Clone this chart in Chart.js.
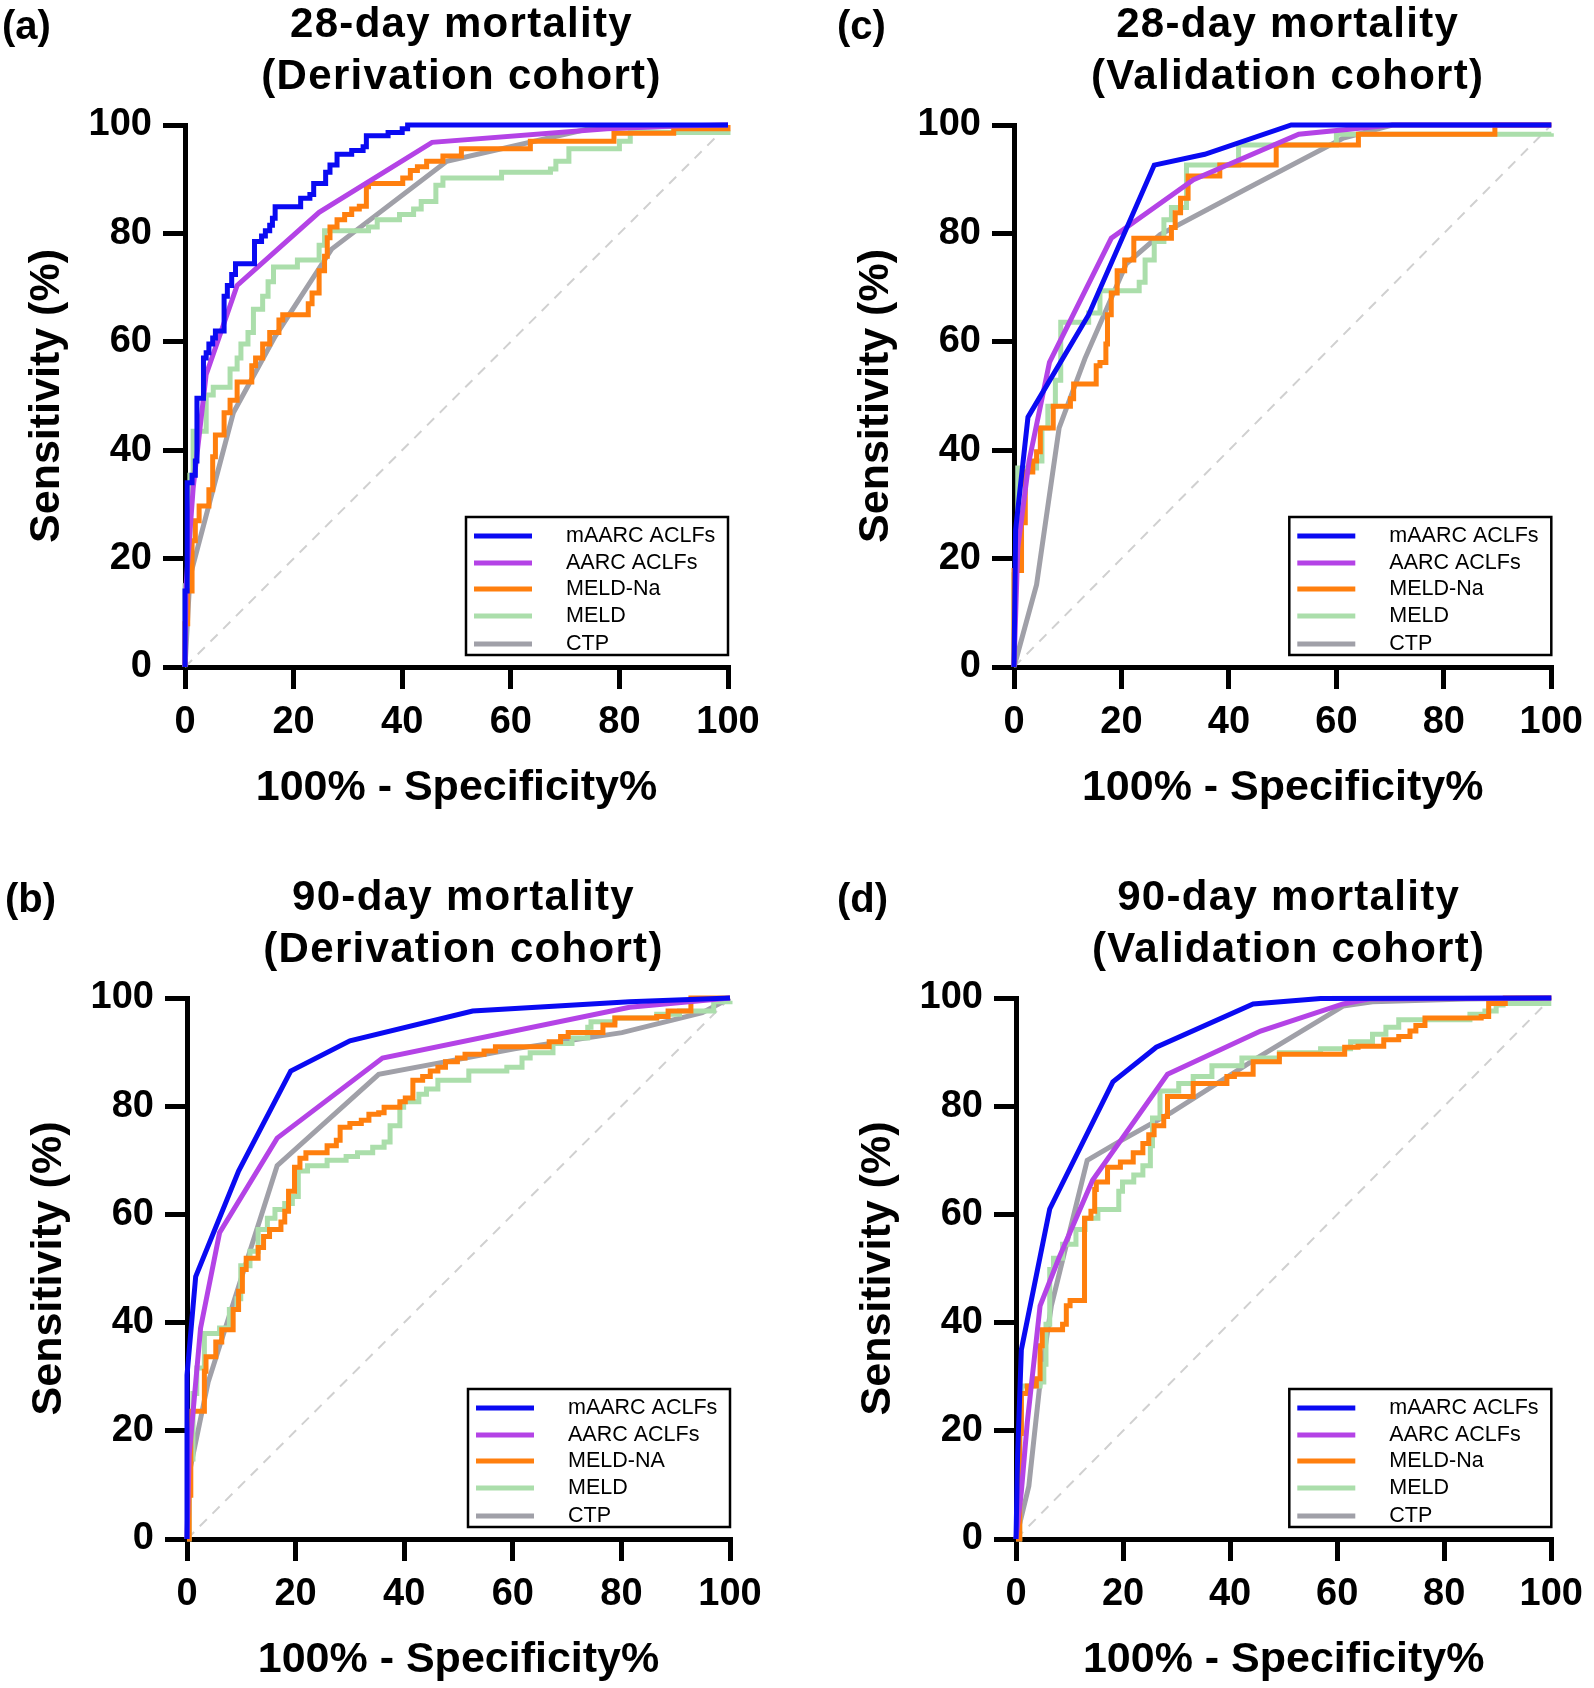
<!DOCTYPE html>
<html>
<head>
<meta charset="utf-8">
<script src="https://cdn.jsdelivr.net/npm/chart.js@4.4.1/dist/chart.umd.min.js"></script>
<style>
  body { margin: 0; background: #fff; }
  #page { position: relative; width: 1594px; height: 1688px; background: #fff; }
  .panel { position: absolute; width: 797px; height: 844px; }
</style>
</head>
<body>
<div id="page">
  <div class="panel" style="left:0;top:0"><canvas id="chartA" width="797" height="844"></canvas></div>
  <div class="panel" style="left:797px;top:0"><canvas id="chartC" width="797" height="844"></canvas></div>
  <div class="panel" style="left:0;top:844px"><canvas id="chartB" width="797" height="844"></canvas></div>
  <div class="panel" style="left:797px;top:844px"><canvas id="chartD" width="797" height="844"></canvas></div>
</div>
<script>
// axis ticks and labels
var tickValues = [0, 20, 40, 60, 80, 100];
var xTitle = '100% - Specificity%';
var yTitle = 'Sensitivity (%)';

// legend labels
var labels28 = ['mAARC ACLFs', 'AARC ACLFs', 'MELD-Na', 'MELD', 'CTP'];
var labels90d = ['mAARC ACLFs', 'AARC ACLFs', 'MELD-NA', 'MELD', 'CTP'];
var seriesColors = ['#0a0af2', '#b443e6', '#ff7f0e', '#abdeab', '#a0a0a8'];

// ---- (a) 28-day, derivation ----  [x, y] = [100-specificity, sensitivity]
var a_mAARC = [[0,0],[0,14],[0.4,34],[1.3,35.4],[1.9,38],[2.2,49.6],[3.4,57],[3.9,58],[4.4,59.6],[5.1,60.7],[5.6,62],[7.2,68.4],[7.8,70.4],[8.6,72.4],[9.3,74.4],[12.8,78.5],[14.1,79.5],[14.8,80.5],[15.6,81.5],[16.1,82.8],[16.6,84.9],[21.3,86.5],[23,87.2],[23.7,89.2],[25.9,91.3],[26.7,92.6],[28,94.6],[30.7,95.3],[32.8,96],[33.4,98],[37.4,98.6],[40,99.3],[41,100],[100,100]];
var a_AARC = [[0,0],[0.2,15],[1.5,33],[3.9,54],[9.6,70.4],[24.7,83.9],[45.5,96.8],[77.7,99.3],[90,99.8],[100,100]];
var a_MELDNa = [[0,0],[0,8],[0.5,14],[1.3,23.3],[1.9,27],[2.6,29.7],[4.4,32.7],[5.1,38.8],[5.6,42.8],[7.2,46.9],[8.3,49.2],[9.6,52.6],[12.3,55.6],[13,57],[14.3,59.6],[15.6,61.7],[17.3,64],[18,65],[22.7,67],[23.4,69],[24.7,73.1],[25.7,75.8],[26.2,79.2],[26.7,81.2],[28,82.5],[29.4,83.5],[30.7,84.5],[32.1,85],[33.4,88.6],[33.8,89.2],[40.1,90.2],[41.5,91.6],[42.8,92.3],[44.5,93.3],[47.5,94.3],[50.9,95.6],[63.6,97],[79,98.5],[90,99.3],[100,100]];
var a_MELD = [[0,0],[0,15],[0.9,35.4],[1.5,43.5],[3.9,50.2],[5.2,51.6],[8.3,55],[9.6,57],[10.3,59.6],[11.6,61.7],[12.6,66],[14.3,68.4],[15.3,71.1],[16.3,73.8],[20.7,75.1],[24.7,77.8],[25.7,80.5],[33.8,81.2],[35.4,82.5],[39.5,83.5],[42.1,84.5],[43.5,85.9],[46.2,88.9],[47.5,90.2],[58.3,91.3],[67.3,91.9],[68.3,93.3],[70.7,95.6],[80,97],[82,98.6],[100,99]];
var a_CTP = [[0,0],[0.9,16.6],[8.9,46.9],[16.6,61],[27,77.1],[48.2,93.3],[74.4,99.3],[100,100]];

// ---- (b) 90-day, derivation ----
var b_mAARC = [[0,0],[0,30.3],[1.6,48.5],[9.5,68],[19.1,86.5],[30,92.1],[52.6,97.6],[81.5,99.3],[100,100]];
var b_AARC = [[0,0],[0.4,15.5],[2.5,39],[6,56.6],[16.6,74.1],[36,88.9],[81.5,98.3],[100,100]];
var b_MELDNa = [[0,0],[0.4,8.1],[0.7,23.6],[3.2,31],[3.5,33.7],[5.3,36.4],[6.4,38.7],[8.5,42.4],[9.5,45.8],[10.2,49.8],[10.9,51.9],[13.1,53.9],[14.1,55.9],[15.2,57.2],[17.3,58.6],[18,60.6],[18.7,64.3],[19.8,68.7],[20.8,70.4],[21.9,71.4],[25.8,72.7],[27.5,73.7],[28.2,76.1],[30,76.8],[32.1,77.4],[33.5,78.5],[35.3,78.8],[36.3,79.8],[39.2,80.8],[40.2,81.5],[41.6,84.8],[43.4,85.5],[44.8,86.5],[46.2,87.2],[47.6,88.2],[49.8,88.9],[51.2,89.6],[54.7,90.2],[56.8,91],[66.7,91.9],[68.8,92.9],[70.2,93.6],[76.6,95],[78.8,96.3],[86.5,96.6],[88.6,97.6],[92.8,100],[100,100]];
var b_MELD = [[0,0],[0.4,14.8],[1.1,26.9],[1.8,31.6],[3.2,38],[6,39],[7.8,42.4],[9.2,44.4],[9.9,50.5],[11.6,53.2],[13.1,57.2],[14.8,59.3],[16.2,60.9],[18,62],[19.4,63.3],[20.5,68],[22.2,69],[25.8,70],[29.3,70.7],[31.4,71.4],[34.2,72.4],[36.3,73.4],[37.4,76.4],[39.2,79.8],[39.9,80.8],[42.7,82.2],[44.1,83.2],[46.2,84.8],[51.9,86.5],[58.9,87.2],[61.7,88.9],[63.2,89.9],[67.4,91.6],[70.9,92.6],[73.8,94.6],[74.4,95.6],[78.8,96.3],[86.5,97],[90.7,97.6],[97,99.3],[100,99.5]];
var b_CTP = [[0,0],[0.4,12.1],[3.9,29],[16.6,69],[35.3,85.9],[60.3,90.6],[80.1,93.6],[94.9,97.3],[100,100]];

// ---- (c) 28-day, validation ----
var c_mAARC = [[0,0],[0.3,25.3],[2.6,46.1],[13.9,65],[26.1,92.6],[35.5,94.6],[51.6,100],[100,100]];
var c_AARC = [[0,0],[0.7,21.9],[2.8,38],[6.6,56.2],[18.1,79.1],[33.4,89.9],[53,98.3],[70.4,100],[100,100]];
var c_MELDNa = [[0,0],[0,17.8],[1.4,26.6],[2.1,36],[3.5,38],[4.2,39.7],[4.9,44.1],[7.3,48.1],[10.5,49.5],[11.1,52.2],[15.3,55.6],[16,56.2],[17.1,59.6],[17.4,65],[18.1,69],[19.2,73.1],[20.6,75.1],[22.3,79.1],[29.3,81.1],[30,83.8],[31,86.5],[32.4,90.6],[38.3,92.6],[48.8,96.3],[64.1,98.3],[89.5,100],[100,100]];
var c_MELD = [[0,0],[0,17],[0.3,23.2],[0.7,36.7],[4.2,38],[5.2,44.1],[6.3,48.1],[7.7,52.9],[8.7,63.6],[13.9,65.3],[16,69.4],[23.3,71],[24.4,75.1],[26.1,78.5],[27.9,82.5],[29.3,84.8],[32.1,92.6],[41.8,96.3],[60,98.3],[100,98.5]];
var c_CTP = [[0,0],[4.2,15.2],[8.4,44.1],[13.2,56.9],[20.9,74.4],[27.2,79.8],[43.2,88.2],[61.3,97.6],[70.4,100],[100,100]];

// ---- (d) 90-day, validation ----
var d_mAARC = [[0,0],[0.3,15.5],[1,35],[6.3,61],[18.1,84.5],[26.2,90.9],[44.3,98.9],[56.9,99.9],[100,100]];
var d_AARC = [[0,0],[1,8.8],[2.1,21.5],[4.5,43.1],[8,51.9],[14.3,66.3],[28.3,85.9],[45.7,93.9],[61.1,98.9],[65.9,99.8],[100,100]];
var d_MELDNa = [[0,0],[0.7,19.5],[1,26.9],[2.1,28.3],[3.8,29.6],[4.5,35.7],[4.9,38.7],[8.7,39.7],[9.4,43.1],[10.1,44.1],[12.8,59.3],[14,60.6],[14.7,64.6],[15,66],[17.1,68.7],[19.5,69.7],[21.9,71.4],[23.7,73.1],[24.8,74.7],[25.8,76.4],[27.6,78.1],[28.3,81.8],[33.1,84.2],[39.4,85.5],[40.8,85.9],[44.3,88.2],[49.2,89.6],[61.4,90.9],[63.9,91.1],[68.7,92.3],[71.5,92.9],[73.6,93.9],[74.7,94.9],[76.4,96.3],[86.9,96.6],[88.3,99],[91.4,100],[100,100]];
var d_MELD = [[0,0],[0.7,19.9],[1,28.3],[4.5,29],[5.2,32.3],[5.6,39.7],[6.3,49.8],[7,51.9],[8.7,54.5],[11.2,57.2],[12.9,59.3],[15.3,60.9],[19.2,64.3],[19.9,66],[22,67.3],[23.7,69],[25.1,72.7],[25.5,77.8],[26.9,82.8],[30.4,84.2],[33.1,85.5],[36.6,87.5],[42.2,88.9],[49.2,89.9],[56.9,90.6],[62.5,91.9],[66.6,93.3],[69.1,94.6],[71.5,96],[84.8,97],[87.6,97.6],[89.7,98.7],[91,99],[100,99]];
var d_CTP = [[0,0],[2.4,9.8],[4.5,29],[6.6,43.1],[13.3,70],[19.2,73.4],[29,78.8],[45,88.9],[61.1,98.5],[66.6,99.3],[84.1,99.8],[100,100]];

var refLine = [[0,0],[100,100]];

Chart.defaults.font.family = '"Liberation Sans", Arial, Helvetica, sans-serif';
Chart.defaults.color = '#000';

// 凡例の行位置（枠の上端から）
var legendRows = [19, 46, 72, 99, 127];

// タイトル・パネル記号・凡例をキャンバスに直接描く
var panelDecor = {
  id: 'panelDecor',
  afterDraw: function(chart, args, opts) {
    var ctx = chart.ctx, area = chart.chartArea;
    ctx.save();
    ctx.fillStyle = '#000';
    ctx.font = 'bold 40px "Liberation Sans", Arial, sans-serif';
    ctx.textBaseline = 'alphabetic';
    ctx.textAlign = 'left';
    ctx.fillText(opts.letter, opts.letterX, area.top - 86);
    ctx.font = 'bold 42px "Liberation Sans", Arial, sans-serif';
    ctx.textAlign = 'center';
    ctx.letterSpacing = '1.3px';
    var cx = (area.left + area.right) / 2 + 5;
    ctx.fillText(opts.title[0], cx, area.top - 88);
    ctx.fillText(opts.title[1], cx, area.top - 36);
    ctx.letterSpacing = '0px';

    // legend box
    var w = 262, h = 138;
    var bx = area.right - w, by = area.bottom - 12 - h;
    ctx.fillStyle = '#fff';
    ctx.fillRect(bx, by, w, h);
    ctx.lineWidth = 2.5;
    ctx.strokeStyle = '#000';
    ctx.strokeRect(bx, by, w, h);
    ctx.font = '21.5px "Liberation Sans", Arial, sans-serif';
    ctx.textAlign = 'left';
    ctx.textBaseline = 'middle';
    for (var i = 0; i < legendRows.length; i++) {
      var ds = chart.data.datasets[i];
      ctx.strokeStyle = ds.borderColor;
      ctx.lineWidth = 5;
      ctx.beginPath();
      ctx.moveTo(bx + 8, by + legendRows[i]);
      ctx.lineTo(bx + 66, by + legendRows[i]);
      ctx.stroke();
      ctx.fillStyle = '#000';
      ctx.fillText(ds.label, bx + 100, by + legendRows[i]);
    }
    ctx.restore();
  }
};

function toXY(arr) {
  return arr.map(function(p) { return { x: p[0], y: p[1] }; });
}

function axis(title, titlePad) {
  return {
    type: 'linear', min: 0, max: 100,
    afterBuildTicks: function(s) { s.ticks = tickValues.map(function(v) { return { value: v }; }); },
    grid: { drawOnChartArea: false, color: '#000', lineWidth: 5, tickLength: 22 },
    border: { display: true, color: '#000', width: 5 },
    ticks: { color: '#000', padding: 11, autoSkip: false, maxRotation: 0, font: { size: 38, weight: 'bold' } },
    title: { display: true, text: title, color: '#000', padding: titlePad, font: { size: 43, weight: 'bold' } }
  };
}

function makePanel(id, pad, letterX, letter, title, labels, series, stepped) {
  // 'before' = horizontal run first, then the vertical jump at the next x
  var datasets = series.map(function(pts, i) {
    return {
      label: labels[i], data: toXY(pts),
      borderColor: seriesColors[i], backgroundColor: seriesColors[i],
      borderWidth: 5, pointRadius: 0, tension: 0, clip: false,
      stepped: stepped[i] ? 'before' : false
    };
  });
  datasets.push({
    label: 'reference', data: toXY(refLine), borderColor: '#d0d0d0',
    borderWidth: 2, borderDash: [10, 8], pointRadius: 0, clip: false
  });

  var x = axis(xTitle, { top: 0, bottom: 2 });
  x.position = 'bottom';
  x.afterFit = function(s) { s.height = 149; };
  var y = axis(yTitle, { top: 21, bottom: 0 });
  y.position = 'left';
  y.afterFit = function(s) { s.width = 185; };

  return new Chart(document.getElementById(id), {
    type: 'line',
    data: { datasets: datasets },
    options: {
      responsive: false, animation: false, devicePixelRatio: 1,
      layout: { padding: pad },
      scales: { x: x, y: y },
      plugins: {
        legend: { display: false }, tooltip: { enabled: false },
        panelDecor: { letter: letter, letterX: letterX, title: title }
      }
    },
    plugins: [panelDecor]
  });
}

makePanel('chartA', { left: 0, right: 69, top: 125, bottom: 28 }, 2, '(a)',
  ['28-day mortality', '(Derivation cohort)'], labels28,
  [a_mAARC, a_AARC, a_MELDNa, a_MELD, a_CTP], [true, false, true, true, false]);
makePanel('chartC', { left: 32, right: 35, top: 125, bottom: 28 }, 40, '(c)',
  ['28-day mortality', '(Validation cohort)'], labels28,
  [c_mAARC, c_AARC, c_MELDNa, c_MELD, c_CTP], [false, false, true, true, false]);
makePanel('chartB', { left: 2, right: 67, top: 154, bottom: 0 }, 5, '(b)',
  ['90-day mortality', '(Derivation cohort)'], labels90d,
  [b_mAARC, b_AARC, b_MELDNa, b_MELD, b_CTP], [false, false, true, true, false]);
makePanel('chartD', { left: 34, right: 33, top: 154, bottom: 0 }, 40, '(d)',
  ['90-day mortality', '(Validation cohort)'], labels28,
  [d_mAARC, d_AARC, d_MELDNa, d_MELD, d_CTP], [false, false, true, true, false]);
</script>
</body>
</html>
